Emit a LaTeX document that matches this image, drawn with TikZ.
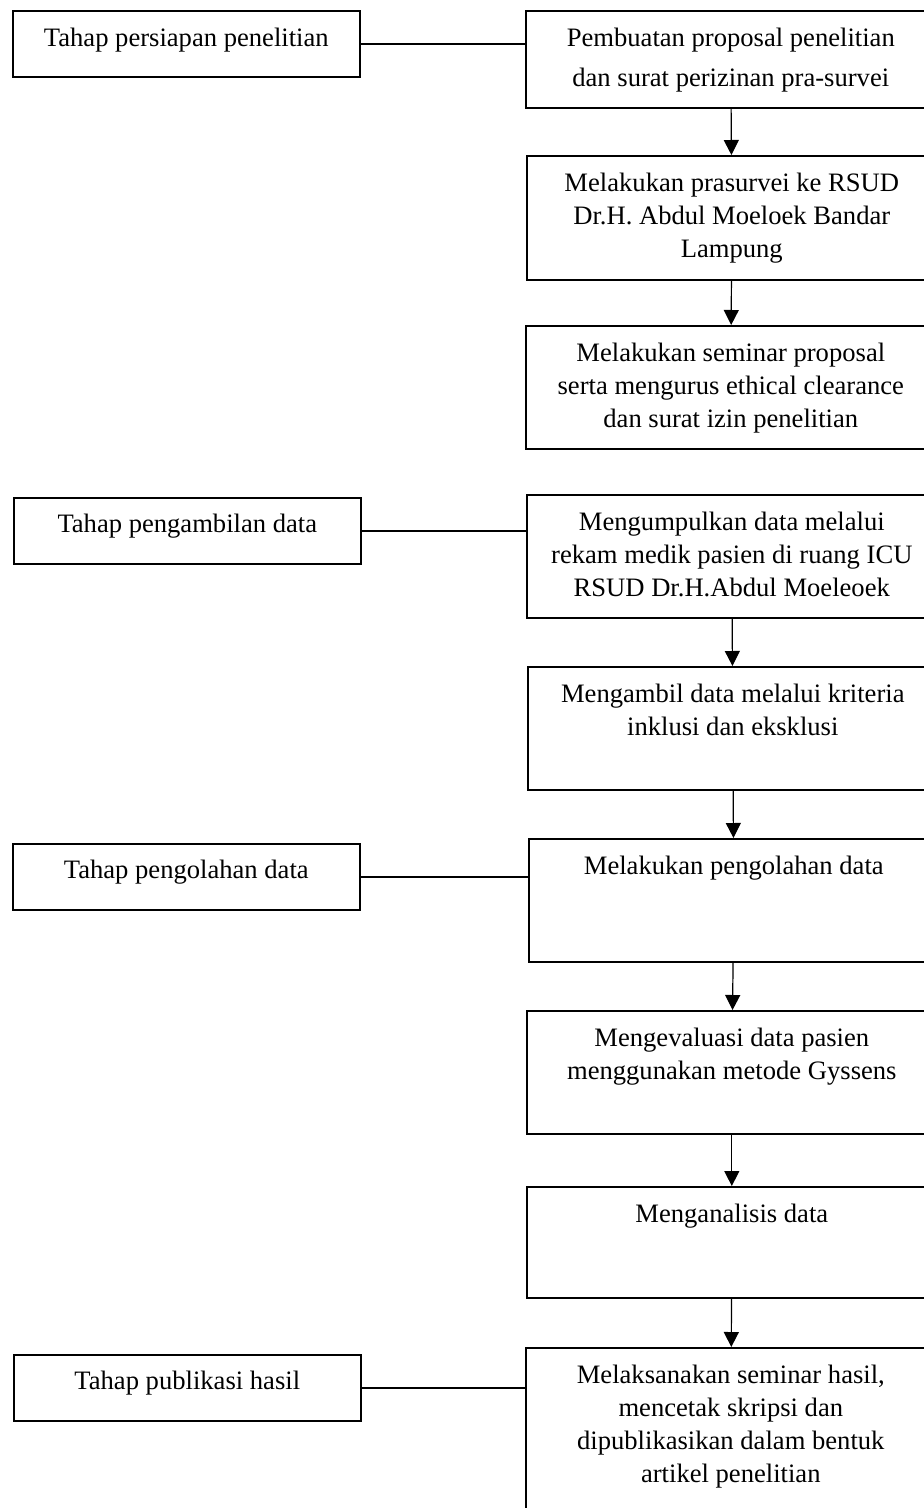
\documentclass[tikz,border=0pt]{standalone}
\usepackage{fontspec}
\setmainfont{Liberation Serif}
\usepackage{tikz}
\usetikzlibrary{positioning,arrows.meta}
\newcommand{\proctext}[2]{\parbox[c][#1][t]{205pt}{\centering\vspace*{6.2pt}\strut #2}}

\begin{document}
\begin{tikzpicture}[x=0.5pt,y=-0.5pt,
  every node/.style={font=\fontsize{13.3}{16.5}\selectfont},
  phase/.style={draw,line width=0.8pt,minimum width=173.5pt,minimum height=33pt,
    text height=9pt,text depth=7pt,inner sep=0pt,anchor=north west},
  proc/.style={draw,line width=0.8pt,inner sep=0pt,anchor=north west},
  link/.style={line width=0.8pt},
  flow/.style={line width=0.6pt,-{Triangle[length=7.5pt,width=7.5pt]}}]
  \useasboundingbox (0,0) rectangle (924,1508);
  % steps on the right, they run past the page edge
  \node[proc] (pr1) at (525,10) {\proctext{48.5pt}{\fontsize{13.3}{20}\selectfont Pembuatan proposal penelitian\\dan surat perizinan pra-survei}};
  \node[proc] (pr2) at (526,155) {\proctext{62pt}{Melakukan prasurvei ke RSUD\\Dr.H. Abdul Moeloek Bandar\\Lampung}};
  \node[proc] (pr3) at (525,325) {\proctext{61.5pt}{Melakukan seminar proposal\\serta mengurus ethical clearance\\dan surat izin penelitian}};
  \node[proc] (pr4) at (526,494) {\proctext{61.5pt}{Mengumpulkan data melalui\\rekam medik pasien di ruang ICU\\RSUD Dr.H.Abdul Moeleoek}};
  \node[proc] (pr5) at (527,666) {\proctext{61.5pt}{Mengambil data melalui kriteria\\inklusi dan eksklusi}};
  \node[proc] (pr6) at (528,838) {\proctext{61.5pt}{Melakukan pengolahan data}};
  \node[proc] (pr7) at (526,1010) {\proctext{61.5pt}{Mengevaluasi data pasien\\menggunakan metode Gyssens}};
  \node[proc] (pr8) at (526,1186) {\proctext{55.5pt}{Menganalisis data}};
  \node[proc] (pr9) at (525,1347) {\proctext{91.5pt}{Melaksanakan seminar hasil,\\mencetak skripsi dan\\dipublikasikan dalam bentuk\\artikel penelitian}};

  \node[phase] (ph1) at (12,10.5) {Tahap persiapan penelitian};
  \node[phase] (ph2) at (13,497) {Tahap pengambilan data};
  \node[phase] (ph3) at (12,843) {Tahap pengolahan data};
  \node[phase] (ph4) at (13,1354) {Tahap publikasi hasil};

  \foreach \a/\b in {pr1/pr2,pr2/pr3,pr4/pr5,pr5/pr6,pr6/pr7,pr7/pr8,pr8/pr9}
    \draw[flow] (\a) -- (\b);
  \foreach \p/\r in {ph1/pr1,ph2/pr4,ph3/pr6,ph4/pr9}
    \draw[link] (\p.east) -- (\p.east -| \r.west);
\end{tikzpicture}
\end{document}
